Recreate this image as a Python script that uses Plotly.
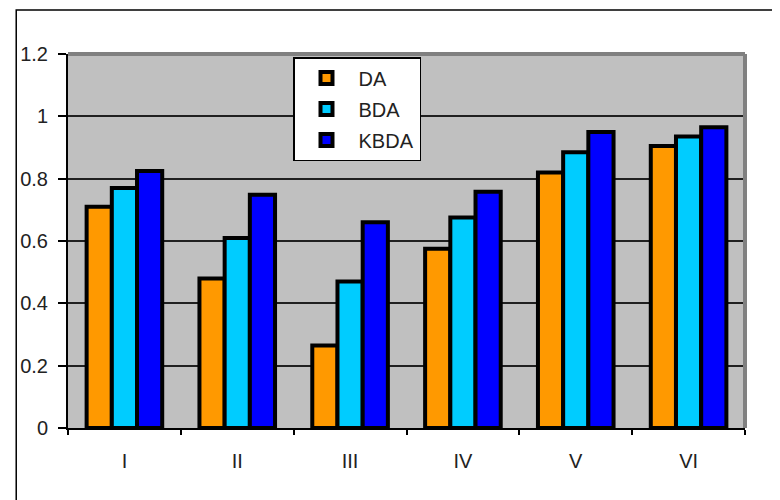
import plotly.graph_objects as go

categories = ["I", "II", "III", "IV", "V", "VI"]
da = [0.71, 0.48, 0.265, 0.575, 0.82, 0.905]
bda = [0.77, 0.61, 0.47, 0.675, 0.885, 0.935]
kbda = [0.825, 0.748, 0.66, 0.758, 0.95, 0.965]
series_names = ["DA", "BDA", "KBDA"]
series_colors = ["#FF9900", "#00CCFF", "#0000FF"]

fig = go.Figure()
for name, vals, col in zip(series_names, [da, bda, kbda], series_colors):
    fig.add_trace(go.Bar(
        x=categories, y=vals, name=name, legendgroup=name,
        marker=dict(color=col, line=dict(color="black", width=4)),
    ))

# page offset: body margin of 8px
OFF = 8
W, H = 780, 500
L, R, T, B = 65 - OFF, 780 - 745 + OFF, 54 - OFF, 500 - 428 + OFF
pw, ph = W - L - R, H - T - B

def px_x(p):
    return (p - OFF - L) / pw

def px_y(p):
    return (H - B - (p - OFF)) / ph

font = dict(family="Liberation Sans, Arial, sans-serif", size=20, color="#222222")

fig.update_layout(
    width=W, height=H,
    margin=dict(l=L, r=R, t=T, b=B),
    paper_bgcolor="white", plot_bgcolor="#C0C0C0",
    barmode="group", bargap=0.33, bargroupgap=0,
    font=font,
    showlegend=True,
    legend=dict(
        x=px_x(291), y=px_y(57), xanchor="left", yanchor="top",
        bgcolor="white", bordercolor="black", borderwidth=1.5,
        font=font, tracegroupgap=2, itemwidth=54,
    ),
    xaxis=dict(
        type="category", tickson="boundaries", ticks="outside", ticklen=5,
        tickcolor="black", tickwidth=1.5, showline=True, linecolor="black",
        linewidth=2, showgrid=False, ticklabelstandoff=14,
    ),
    yaxis=dict(
        range=[0, 1.2], dtick=0.2, ticks="outside", ticklen=8,
        tickcolor="black", tickwidth=1.5, showline=True, linecolor="black",
        linewidth=2, showgrid=True, gridcolor="#202020", gridwidth=1.5,
        zeroline=False, tickformat="~g", ticklabelstandoff=6,
    ),
    shapes=[
        dict(type="line", xref="paper", yref="paper", x0=0, x1=1, y0=1, y1=1,
             line=dict(color="#808080", width=4), layer="above"),
        dict(type="line", xref="paper", yref="paper", x0=1, x1=1, y0=0, y1=1,
             line=dict(color="#808080", width=4), layer="above"),
        dict(type="rect", xref="paper", yref="paper",
             x0=px_x(13), x1=px_x(800), y0=px_y(520), y1=px_y(10),
             line=dict(color="black", width=1.5), layer="below"),
    ],
)

fig.write_html("out.html")
